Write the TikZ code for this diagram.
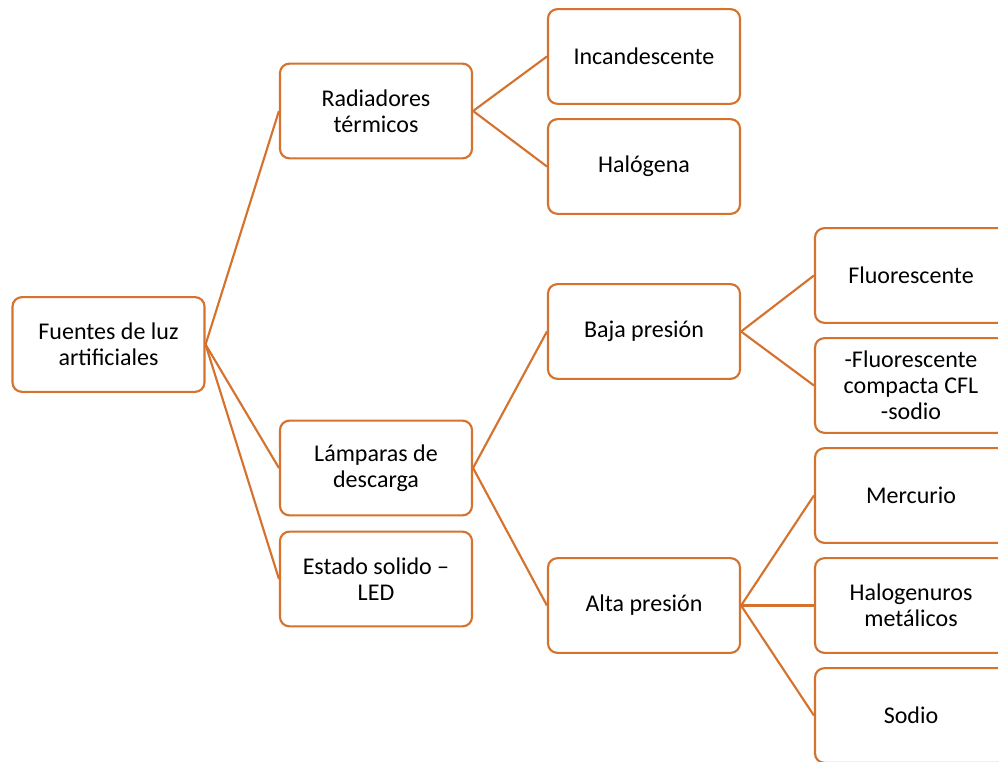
\documentclass[tikz,border=0pt]{standalone}
\usepackage{fontspec}
\setmainfont{Carlito}
\definecolor{orangeline}{HTML}{D4722E}
\begin{document}
\begin{tikzpicture}[x=0.75pt,y=-0.75pt,
  box/.style={draw=orangeline,line width=1.6pt,rounded corners=7pt,fill=white,
    minimum width=144pt,minimum height=71pt,align=center,inner sep=2pt,
    font=\fontsize{18}{19.5}\selectfont},
  link/.style={draw=orangeline,line width=1.6pt}]
\useasboundingbox (0,0) rectangle (998,762);
\clip (0,0) rectangle (998,762);
\node[box] (fuentes) at (108.5,344.5) {Fuentes de luz\\artificiales};
\node[box] (rad) at (376,111) {Radiadores\\térmicos};
\node[box] (lamp) at (376,468) {Lámparas de\\descarga};
\node[box] (led) at (376,579) {Estado solido –\\LED};
\node[box] (inc) at (644,56.5) {Incandescente};
\node[box] (hal) at (644,166.5) {Halógena};
\node[box] (baja) at (644,331.5) {Baja presión};
\node[box] (alta) at (644,605.5) {Alta presión};
\node[box] (fluo) at (911,275.5) {Fluorescente};
\node[box] (cfl) at (911,385.5) {-Fluorescente\\compacta CFL\\-sodio};
\node[box] (merc) at (911,495.5) {Mercurio};
\node[box] (halo) at (911,605.5) {Halogenuros\\metálicos};
\node[box] (sodio) at (911,715.5) {Sodio};
\draw[link] (fuentes.east) -- (rad.west);
\draw[link] (fuentes.east) -- (lamp.west);
\draw[link] (fuentes.east) -- (led.west);
\draw[link] (rad.east) -- (inc.west);
\draw[link] (rad.east) -- (hal.west);
\draw[link] (lamp.east) -- (baja.west);
\draw[link] (lamp.east) -- (alta.west);
\draw[link] (baja.east) -- (fluo.west);
\draw[link] (baja.east) -- (cfl.west);
\draw[link] (alta.east) -- (merc.west);
\draw[link] (alta.east) -- (halo.west);
\draw[link] (alta.east) -- (sodio.west);
\end{tikzpicture}
\end{document}
